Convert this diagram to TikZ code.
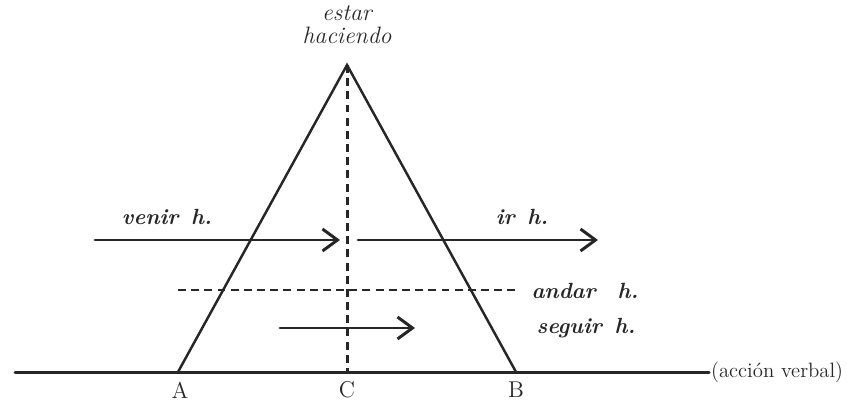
\documentclass[tikz,border=0pt]{standalone}
\usetikzlibrary{arrows.meta}
\begin{document}
\begin{tikzpicture}[x=0.02cm,y=0.02cm,>={Straight Barb[length=3mm,width=4.4mm]},line cap=round,
  thk/.style={line width=1.7pt,black!85},
  dsh/.style={line width=1.7pt,black!85,line cap=butt,dash pattern=on 4.5pt off 3pt},
  lab/.style={font=\fontsize{12.5}{14}\selectfont\itshape\bfseries,text=black!85},
  pt/.style={font=\fontsize{13}{15}\selectfont,text=black!85}]
\useasboundingbox (0,0) rectangle (847,403);
% triangle and base
\coordinate (top) at (347,338);
\coordinate (A) at (178,31);
\coordinate (B) at (516,31);
\coordinate (C) at (347,31);
\coordinate (left) at (15,31);
\node[pt,anchor=west,inner sep=1pt,font=\fontsize{11.8}{14}\selectfont] (verbal) at (709,31) {(acción verbal)};
\draw[thk] (left) -- (verbal.west);
\draw[thk,line width=1.4pt] (A) -- (top) -- (B);
\draw[dsh] (top) -- (C);
\node[pt] (labA) at (180,13) {A};
\node[pt] (labC) at (347,13) {C};
\node[pt] (labB) at (516,13) {B};
\node[lab,align=center,font=\fontsize{13.5}{13}\selectfont\itshape] (estar) at (347,378) {estar\\haciendo};
% arrows
\coordinate (v1) at (95,163);
\coordinate (v2) at (340,163);
\coordinate (i1) at (358,163);
\coordinate (i2) at (598,163);
\coordinate (a1) at (178,113);
\coordinate (a2) at (520,113);
\coordinate (s1) at (280,75);
\coordinate (s2) at (415,75);
\draw[thk,->] (v1) -- (v2);
\draw[thk,->] (i1) -- (i2);
\draw[dsh] (a1) -- (a2);
\draw[thk,->] (s1) -- (s2);
\node[lab] (venir) at (167,186) {venir\,\ h.};
\node[lab] (ir) at (522,186) {ir\,\ h.};
\node[lab] (andar) at (585,112) {andar\quad h.};
\node[lab] (seguir) at (586,75) {seguir\,\ h.};
\end{tikzpicture}
\end{document}
